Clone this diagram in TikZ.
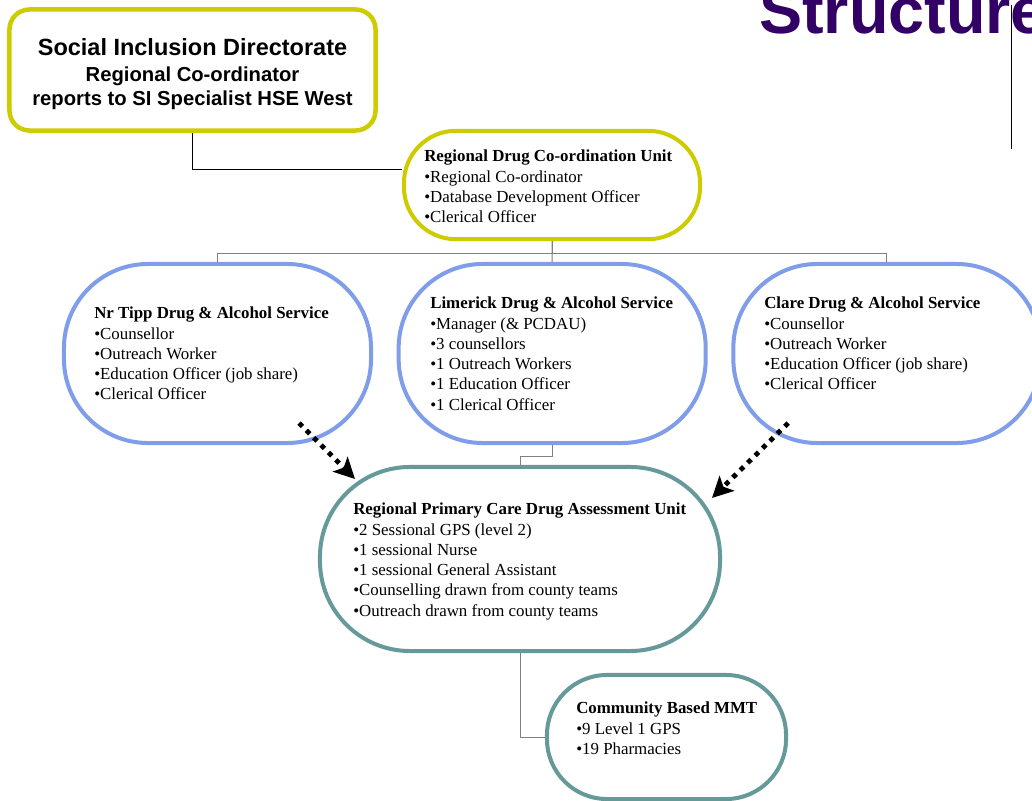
\documentclass[tikz,border=0pt]{standalone}
\usepackage{fontspec}
\setmainfont{Liberation Serif}
\setsansfont{Liberation Sans}
\usepackage{xcolor}
\definecolor{siYellow}{HTML}{CCCC00}
\definecolor{serviceBlue}{HTML}{7F9DE9}
\definecolor{unitTeal}{HTML}{669999}
\definecolor{titlePurple}{HTML}{330066}
\definecolor{linkGray}{HTML}{808080}
\usepackage{tikz}
\usetikzlibrary{positioning,arrows.meta}
\tikzset{%
  directorateBox/.style={%
    rectangle,
    rounded corners=0.5cm,
    draw=siYellow,
    line width=3.2pt,
    fill=white,
    minimum width=9.15cm,
    minimum height=3.025cm,
    inner sep=0pt,
    align=center,
    font=\sffamily\bfseries\fontsize{14.4}{17}\selectfont
  },
  ovalBase/.style={%
    rectangle,
    fill=white,
    line width=2.85pt,
    inner sep=0pt
  },
  coordUnit/.style={%
    ovalBase,
    draw=siYellow,
    rounded corners=1.3cm,
    minimum width=7.4cm,
    minimum height=2.71cm
  },
  serviceOval/.style={%
    ovalBase,
    draw=serviceBlue,
    rounded corners=2.1cm,
    minimum width=7.675cm,
    minimum height=4.475cm
  },
  assessOval/.style={%
    ovalBase,
    draw=unitTeal,
    rounded corners=2.25cm,
    minimum width=10cm,
    minimum height=4.6cm
  },
  mmtOval/.style={%
    ovalBase,
    draw=unitTeal,
    rounded corners=1.5cm,
    minimum width=5.975cm,
    minimum height=3.1cm
  },
  listText/.style={%
    anchor=north west,
    inner sep=0pt,
    align=left,
    font=\fontsize{12}{14.4}\selectfont
  },
  treeLine/.style={%
    draw=linkGray,
    line width=0.7pt
  },
  reportLine/.style={%
    draw=black,
    line width=0.8pt
  },
  dotArrow/.style={%
    -{Stealth[length=0.52cm,width=0.52cm,inset=0.12cm]},
    line width=0.12cm,
    dash pattern=on 0.12cm off 0.14cm
  }
}

\begin{document}
\begin{tikzpicture}[x=0.025cm,y=-0.025cm]
  \useasboundingbox (0,0) rectangle (1032,801);
  \clip (0,0) rectangle (1032,801);

  \node[anchor=base west, inner sep=0pt, text=titlePurple,
        font=\sffamily\bfseries\fontsize{46}{52}\selectfont] (pageTitle) at (759,33.5) {Structure};
  \draw[reportLine] (1011.5,5) -- (1011.5,149);

  \node[directorateBox] (sidBox) at (192.5,70)
    {\rule{0pt}{18pt}{\fontsize{16.7}{20}\selectfont Social Inclusion Directorate}\\[2pt]
     Regional Co-ordinator\\
     reports to SI Specialist HSE West};

  \node[coordUnit] (rdcu) at (552,185) {};
  \node[listText] (rdcuText) at (424,150)
    {\textbf{Regional Drug Co-ordination Unit}\\
     •Regional Co-ordinator\\
     •Database Development Officer\\
     •Clerical Officer};

  \node[serviceOval] (tipp) at (217.5,353.5) {};
  \node[serviceOval, right=0.59cm of tipp] (limerick) {};
  \node[serviceOval, right=0.59cm of limerick] (clare) {};

  \node[listText] (tippText) at (94,307)
    {\textbf{Nr Tipp Drug \& Alcohol Service}\\
     •Counsellor\\
     •Outreach Worker\\
     •Education Officer (job share)\\
     •Clerical Officer};
  \node[listText] (limerickText) at (430,297)
    {\textbf{Limerick Drug \& Alcohol Service}\\
     •Manager (\& PCDAU)\\
     •3 counsellors\\
     •1 Outreach Workers\\
     •1 Education Officer\\
     •1 Clerical Officer};
  \node[listText] (clareText) at (764,297)
    {\textbf{Clare Drug \& Alcohol Service}\\
     •Counsellor\\
     •Outreach Worker\\
     •Education Officer (job share)\\
     •Clerical Officer};

  \node[assessOval] (pcdau) at (520,559) {};
  \node[listText] (pcdauText) at (353,503)
    {\textbf{Regional Primary Care Drug Assessment Unit}\\
     •2 Sessional GPS (level 2)\\
     •1 sessional Nurse\\
     •1 sessional General Assistant\\
     •Counselling drawn from county teams\\
     •Outreach drawn from county teams};

  \node[mmtOval] (mmt) at (666.5,737) {};
  \node[listText] (mmtText) at (576,702)
    {\textbf{Community Based MMT}\\
     •9 Level 1 GPS\\
     •19 Pharmacies};

  % reporting lines
  \draw[reportLine] (sidBox.south) |- (rdcu.174);
  \draw[treeLine] (rdcu.south) -- ++(0,12.5) -| (tipp.north);
  \draw[treeLine] (rdcu.south) -- ++(0,12.5) -| (clare.north);
  \draw[treeLine] (rdcu.south) -- (limerick.north);
  \draw[treeLine] (limerick.south) -- ++(0,11.5) -| (pcdau.north);
  \draw[treeLine] (pcdau.south) |- (mmt.west);

  % referral arrows
  \draw[dotArrow] ([shift={(81.5,69.5)}]tipp.center) -- ([shift={(-165,-80)}]pcdau.center);
  \draw[dotArrow] ([shift={(-98.7,69.5)}]clare.center) -- ([shift={(192,-61)}]pcdau.center);
\end{tikzpicture}
\end{document}
